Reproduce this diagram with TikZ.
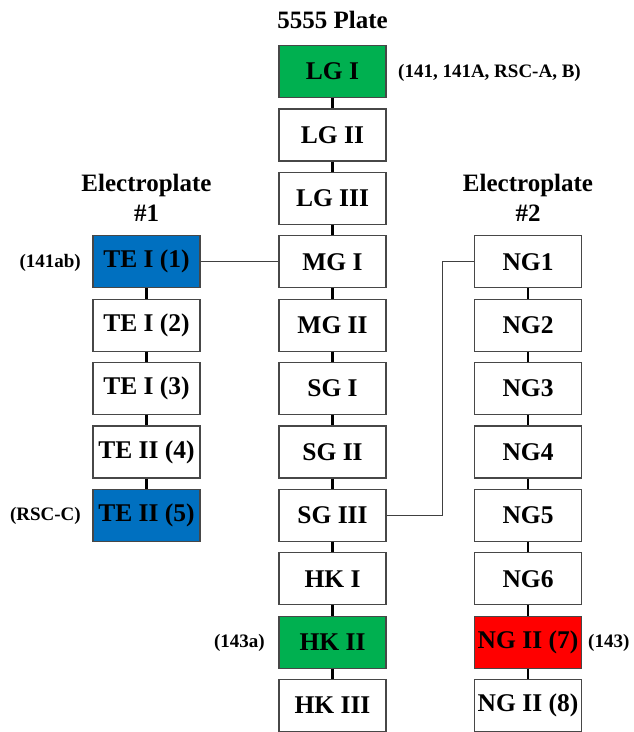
\documentclass[tikz,border=0pt]{standalone}
\usepackage{fontspec}
\setmainfont{Liberation Serif}
\usetikzlibrary{calc}
\begin{document}
\begin{tikzpicture}[x=1pt,y=-1pt,
  box/.style={draw=black!72, line width=1.2pt, minimum width=107pt, minimum height=52pt, inner sep=0pt, fill=white, font=\fontsize{25.5}{28}\selectfont\bfseries},
  ttl/.style={font=\fontsize{25}{28}\selectfont\bfseries, align=center},
  side/.style={font=\fontsize{19}{22}\selectfont\bfseries, inner sep=0pt},
  vlink/.style={line width=2.8pt, black},
  hlink/.style={line width=1pt, black!75}]
\useasboundingbox (0,0) rectangle (633,732);
\def\rowy#1{71.5+63.4*#1}
% titles
\node[ttl] (t0) at (332.5,20) {5555 Plate};
\node[ttl] (t1) at (146.5,198) {Electroplate\\[2pt]\#1};
\node[ttl] (t2) at (528,198) {Electroplate\\[2pt]\#2};
% center column
\node[box, fill={rgb,255:red,0;green,176;blue,80}] (c0) at (332.5,{\rowy{0}}) {LG I};
\node[box] (c1) at (332.5,{\rowy{1}}) {LG II};
\node[box] (c2) at (332.5,{\rowy{2}}) {LG III};
\node[box] (c3) at (332.5,{\rowy{3}}) {MG I};
\node[box] (c4) at (332.5,{\rowy{4}}) {MG II};
\node[box] (c5) at (332.5,{\rowy{5}}) {SG I};
\node[box] (c6) at (332.5,{\rowy{6}}) {SG II};
\node[box] (c7) at (332.5,{\rowy{7}}) {SG III};
\node[box] (c8) at (332.5,{\rowy{8}}) {HK I};
\node[box, fill={rgb,255:red,0;green,176;blue,80}] (c9) at (332.5,{\rowy{9}}) {HK II};
\node[box] (c10) at (332.5,{\rowy{10}}) {HK III};
% left column
\node[box, fill={rgb,255:red,0;green,112;blue,192}] (l3) at (146.5,{\rowy{3}}) {TE I (1)};
\node[box] (l4) at (146.5,{\rowy{4}}) {TE I (2)};
\node[box] (l5) at (146.5,{\rowy{5}}) {TE I (3)};
\node[box] (l6) at (146.5,{\rowy{6}}) {TE II (4)};
\node[box, fill={rgb,255:red,0;green,112;blue,192}] (l7) at (146.5,{\rowy{7}}) {TE II (5)};
% right column
\node[box] (r3) at (528,{\rowy{3}}) {NG1};
\node[box] (r4) at (528,{\rowy{4}}) {NG2};
\node[box] (r5) at (528,{\rowy{5}}) {NG3};
\node[box] (r6) at (528,{\rowy{6}}) {NG4};
\node[box] (r7) at (528,{\rowy{7}}) {NG5};
\node[box] (r8) at (528,{\rowy{8}}) {NG6};
\node[box, fill={rgb,255:red,255;green,0;blue,0}] (r9) at (528,{\rowy{9}}) {NG II (7)};
\node[box] (r10) at (528,{\rowy{10}}) {NG II (8)};
% side labels
\node[side, anchor=west] (s0) at (398,{\rowy{0}+1}) {(141, 141A, RSC-A, B)};
\node[side, anchor=east] (s1) at (81,{\rowy{3}+1}) {(141ab)};
\node[side, anchor=east] (s2) at (81,{\rowy{7}+1}) {(RSC-C)};
\node[side, anchor=east] (s3) at (265,{\rowy{9}+1}) {(143a)};
\node[side, anchor=west] (s4) at (588,{\rowy{9}+1}) {(143)};
% vertical links
\foreach \a/\b in {c0/c1,c1/c2,c2/c3,c3/c4,c4/c5,c5/c6,c6/c7,c7/c8,c8/c9,c9/c10,
                   l3/l4,l4/l5,l5/l6,l6/l7,
                   r3/r4,r4/r5,r5/r6,r6/r7,r7/r8,r8/r9,r9/r10}
  \draw[vlink] (\a.south) -- (\b.north);
% horizontal links
\draw[hlink] (l3.east) -- (c3.west);
\coordinate (elb) at (442,0);
\draw[hlink] (c7.east) -- (c7.east -| elb) |- (r3.west);
\end{tikzpicture}
\end{document}
